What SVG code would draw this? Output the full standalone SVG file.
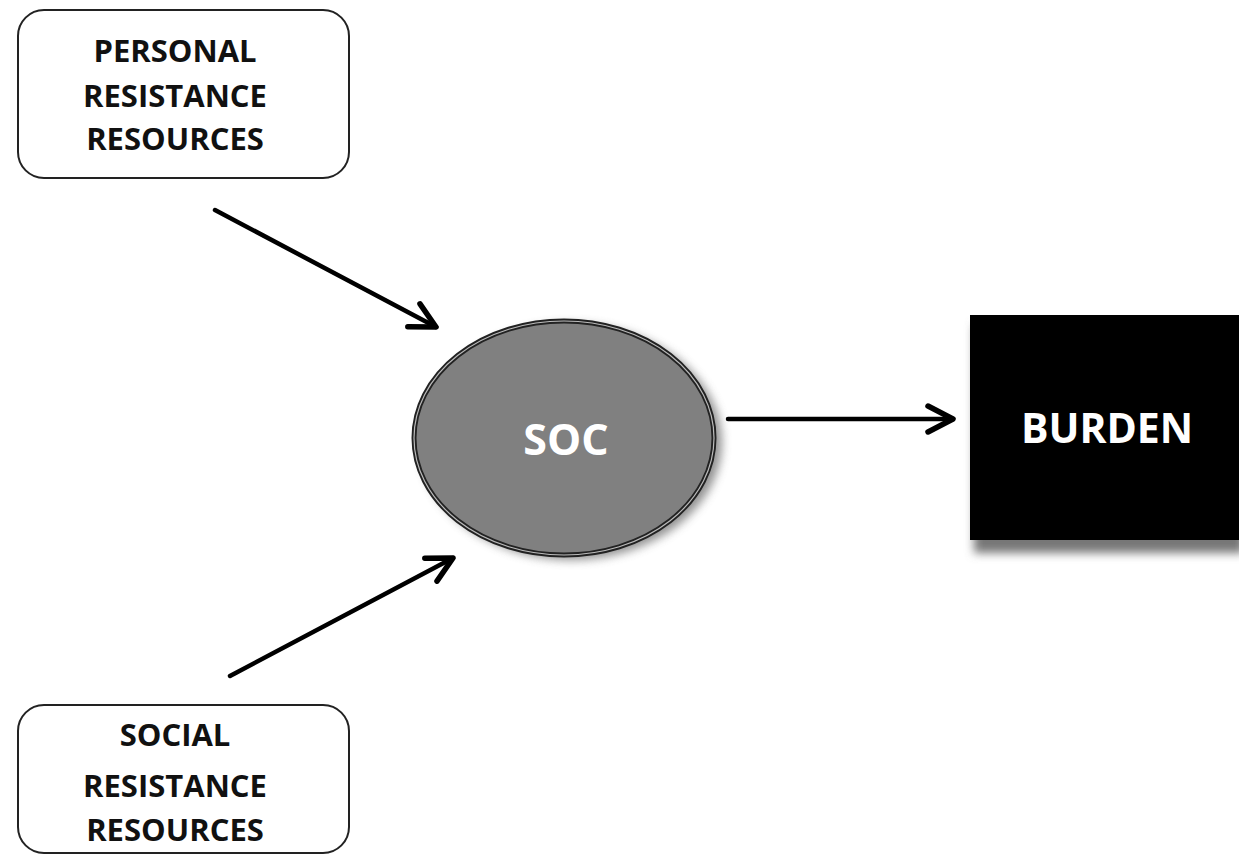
<svg xmlns="http://www.w3.org/2000/svg" width="1239" height="856" viewBox="0 0 1239 856">
<style>
.box{fill:#fff;stroke:#222;stroke-width:2}
.lbl{font-family:"Open Sans","Liberation Sans",sans-serif;font-weight:700;font-size:31px;fill:#111;text-anchor:middle}
.wlbl{font-family:"Open Sans","Liberation Sans",sans-serif;font-weight:700;fill:#fff;text-anchor:middle}
.conn{stroke:#000;stroke-width:4.5;fill:none;stroke-linecap:round}
</style>
<defs>
<marker id="arr" markerUnits="userSpaceOnUse" viewBox="0 0 36 36" markerWidth="36" markerHeight="36" refX="30" refY="18" orient="auto">
<path d="M5,5 L30,18 L5,31" fill="none" stroke="#000" stroke-width="5.5" stroke-linecap="round" stroke-linejoin="round"/>
</marker>
<filter id="sh" x="-20%" y="-20%" width="150%" height="150%">
<feGaussianBlur stdDeviation="5"/>
</filter>
</defs>
<rect width="1239" height="856" fill="#fff"/>
<g id="personal">
<rect class="box" x="18" y="10" width="331" height="168" rx="26"/>
<text class="lbl" x="175" y="62">PERSONAL</text>
<text class="lbl" x="175" y="107">RESISTANCE</text>
<text class="lbl" x="175" y="150">RESOURCES</text>
</g>
<g id="social">
<rect class="box" x="18" y="705" width="331" height="148" rx="26"/>
<text class="lbl" x="175" y="746">SOCIAL</text>
<text class="lbl" x="175" y="797">RESISTANCE</text>
<text class="lbl" x="175" y="841">RESOURCES</text>
</g>
<g id="soc">
<ellipse cx="571" cy="442" rx="151" ry="118" fill="#777" filter="url(#sh)" opacity="0.8"/>
<ellipse cx="564" cy="438" rx="150" ry="117" fill="#808080" stroke="#222" stroke-width="5"/>
<ellipse cx="564" cy="438" rx="150" ry="117" fill="none" stroke="#bbb" stroke-width="1.2"/>
<text class="wlbl" x="566" y="455" font-size="43">SOC</text>
</g>
<g id="burden">
<rect x="974" y="325" width="270" height="228" fill="#777" filter="url(#sh)"/>
<rect x="970" y="315" width="275" height="225" fill="#000"/>
<text class="wlbl" x="1107" y="443" font-size="41">BURDEN</text>
</g>
<g id="connectors">
<path class="conn" d="M215,210 L436,327" marker-end="url(#arr)"/>
<path class="conn" d="M230,676 L453,558" marker-end="url(#arr)"/>
<path class="conn" d="M728,419 L953,419" marker-end="url(#arr)"/>
</g>
</svg>
